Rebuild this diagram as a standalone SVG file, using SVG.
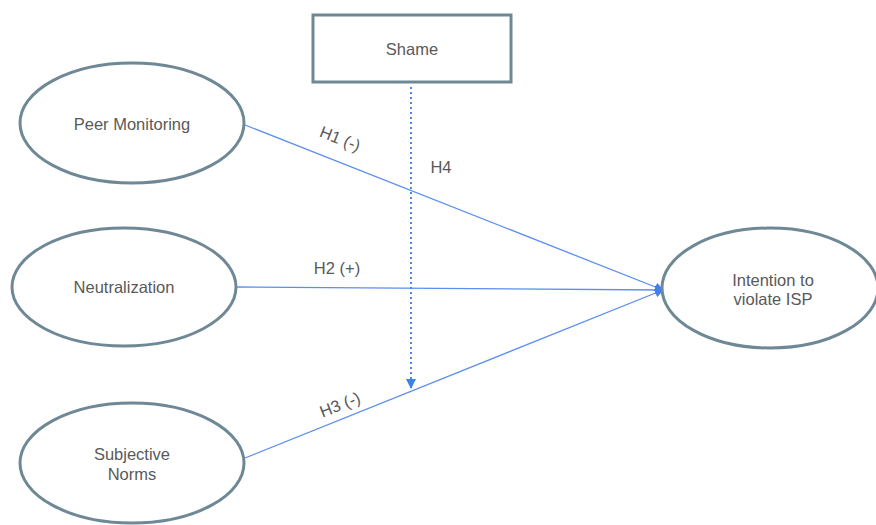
<svg xmlns="http://www.w3.org/2000/svg" width="876" height="525" viewBox="0 0 876 525">
  <style>
    .node { fill: #ffffff; stroke: #6f8896; stroke-width: 3; }
    .lbl { font-family: "Liberation Sans", Arial, sans-serif; font-size: 16.5px; fill: #595959; text-anchor: middle; }
    .path { stroke: #5a8ef0; stroke-width: 1.3; fill: none; }
    .mod { stroke: #4a86f0; stroke-width: 2; stroke-dasharray: 2 3; fill: none; }
  </style>
  <defs>
    <marker id="arrow" viewBox="0 0 10 10" refX="9" refY="5" markerWidth="9" markerHeight="9" markerUnits="userSpaceOnUse" orient="auto">
      <path d="M0,0 L10,5 L0,10 z" fill="#3f7ff0"/>
    </marker>
    <marker id="arrowDown" viewBox="0 0 10 10" refX="9" refY="5" markerWidth="10" markerHeight="10" markerUnits="userSpaceOnUse" orient="auto">
      <path d="M0,0 L10,5 L0,10 z" fill="#3f7ff0"/>
    </marker>
  </defs>
  <rect width="876" height="525" fill="#ffffff"/>

  <g id="connectors">
    <line class="path" x1="245" y1="125" x2="663" y2="290" marker-end="url(#arrow)"/>
    <line class="path" x1="237" y1="287" x2="663" y2="290" marker-end="url(#arrow)"/>
    <line class="path" x1="245" y1="458" x2="663" y2="290" marker-end="url(#arrow)"/>
    <line class="mod" x1="411" y1="87" x2="411" y2="388" marker-end="url(#arrowDown)"/>
    <text class="lbl" transform="translate(338,144) rotate(21.5)">H1 (-)</text>
    <text class="lbl" x="441" y="173">H4</text>
    <text class="lbl" x="337" y="274">H2 (+)</text>
    <text class="lbl" transform="translate(342,410) rotate(-21.5)">H3 (-)</text>
  </g>

  <g id="shame">
    <rect class="node" x="313" y="15" width="198" height="67"/>
    <text class="lbl" x="412" y="55">Shame</text>
  </g>
  <g id="peer-monitoring">
    <ellipse class="node" cx="132" cy="123" rx="112" ry="60"/>
    <text class="lbl" x="132" y="130">Peer Monitoring</text>
  </g>
  <g id="neutralization">
    <ellipse class="node" cx="124" cy="287" rx="112" ry="59"/>
    <text class="lbl" x="124" y="293">Neutralization</text>
  </g>
  <g id="subjective-norms">
    <ellipse class="node" cx="132" cy="463" rx="112" ry="60"/>
    <text class="lbl" x="132" y="460">Subjective</text>
    <text class="lbl" x="132" y="480">Norms</text>
  </g>
  <g id="intention">
    <ellipse class="node" cx="770" cy="288" rx="108" ry="60"/>
    <text class="lbl" x="773" y="286">Intention to</text>
    <text class="lbl" x="773" y="305">violate ISP</text>
  </g>
</svg>
